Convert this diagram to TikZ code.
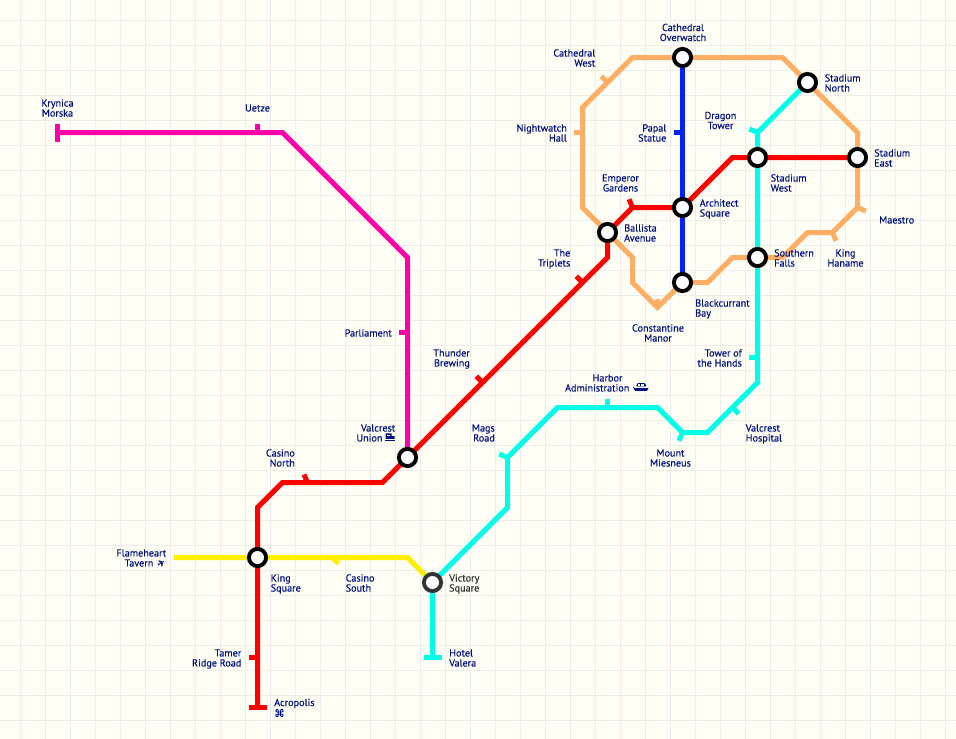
\documentclass[tikz,border=0pt]{standalone}
\usepackage{fontspec}
\setmainfont{PT Sans}
\newfontfamily\lblfont[RawFeature={embolden=0.35}]{PT Sans}
\newfontfamily\symfont[RawFeature={embolden=0.6}]{DejaVu Sans}
\definecolor{bgc}{HTML}{FFFFF5}
\definecolor{gridc}{HTML}{EDEEEB}
\definecolor{navy}{HTML}{001080}
\definecolor{ringgray}{HTML}{333333}
\definecolor{lmag}{HTML}{FF00A8}
\definecolor{lred}{HTML}{FF0000}
\definecolor{lblue}{HTML}{0022FF}
\definecolor{lcyan}{HTML}{00FFE6}
\definecolor{lorange}{HTML}{FFAE66}
\definecolor{lyellow}{HTML}{FFF000}
\pgfdeclarelayer{gridlayer}
\pgfdeclarelayer{linelayer}
\pgfsetlayers{gridlayer,linelayer,main}
\tikzset{
  x=1pt,y=-1pt,
  metro/.style={line width=5pt,line join=miter},
  stationnode/.style={circle,draw=black,fill=white,line width=3.9pt,minimum size=17.2pt,inner sep=0pt},
  lbl/.style={font=\lblfont\fontsize{10.2}{10}\selectfont,text=navy,inner sep=0pt,yshift=-1.9pt,execute at begin node=\strut,execute at end node=\strut},
  lblL/.style={lbl,anchor=west,align=left},
  lblR/.style={lbl,anchor=east,align=right},
  lblC/.style={lbl,anchor=center,align=center},
}
\begin{document}
\begin{tikzpicture}
\useasboundingbox (0,0) rectangle (956,739);
\begin{pgfonlayer}{gridlayer}
\fill[bgc] (0,0) rectangle (956,739);
\foreach \i in {0,...,37} \draw[gridc,line width=1.8pt] ({20.5+25*\i},0) -- ({20.5+25*\i},739);
\foreach \i in {0,...,28} \draw[gridc,line width=1.8pt] (0,{20.5+25*\i}) -- (956,{20.5+25*\i});
\end{pgfonlayer}
% stations
\node[stationnode] (overwatch) at (682.5,57.5) {};
\node[stationnode] (stnorth) at (807.5,82.5) {};
\node[stationnode] (stwest) at (757.5,157.5) {};
\node[stationnode] (steast) at (857.5,157.5) {};
\node[stationnode] (architect) at (682.5,207.5) {};
\node[stationnode] (ballista) at (607.5,232.5) {};
\node[stationnode] (blackcurrant) at (682.5,282.5) {};
\node[stationnode] (southern) at (757.5,257.5) {};
\node[stationnode] (union) at (407.5,457.5) {};
\node[stationnode] (king) at (257.5,557.5) {};
\node[stationnode,draw=ringgray] (victory) at (432.5,582.5) {};
% stops on the lines
\coordinate (krynica) at (57.5,132.5);
\coordinate (uetze) at (257.5,132.5);
\coordinate (parliament) at (407.5,332.5);
\coordinate (casinon) at (307.5,482.5);
\coordinate (thunder) at (482.5,382.5);
\coordinate (triplets) at (582.5,282.5);
\coordinate (emperor) at (632.5,207.5);
\coordinate (tamer) at (257.5,657.5);
\coordinate (acropolis) at (257.5,707.5);
\coordinate (papal) at (682.5,132.5);
\coordinate (flame) at (174,557.5);
\coordinate (casinos) at (332.5,557.5);
\coordinate (valera) at (432.5,657.5);
\coordinate (mags) at (507.5,457.5);
\coordinate (harbor) at (607.5,407.5);
\coordinate (miesneus) at (682.5,432.5);
\coordinate (hospital) at (732.5,407.5);
\coordinate (hands) at (757.5,357.5);
\coordinate (dragon) at (757.5,132.5);
\coordinate (maestro) at (857.5,207.5);
\coordinate (haname) at (832.5,232.5);
\coordinate (constantine) at (657.5,307.5);
\coordinate (catwest) at (607.5,82.5);
\coordinate (nightwatch) at (582.5,132.5);
% tick ends
\coordinate (krynicaA) at (57.5,123.5);
\coordinate (krynicaB) at (57.5,141.5);
\coordinate (uetzeE) at (257.5,123.5);
\coordinate (parliamentE) at (398.5,332.5);
\coordinate (casinonE) at (304,474.5);
\coordinate (thunderE) at (476.3,376.3);
\coordinate (tripletsE) at (576.3,276.3);
\coordinate (emperorE) at (629,199.2);
\coordinate (tamerE) at (248.5,657.5);
\coordinate (acropolisA) at (248.5,707.5);
\coordinate (acropolisB) at (266.5,707.5);
\coordinate (papalE) at (673.5,132.5);
\coordinate (casinosE) at (338.7,563.7);
\coordinate (valeraA) at (423.5,657.5);
\coordinate (valeraB) at (441.5,657.5);
\coordinate (magsE) at (499.2,454);
\coordinate (harborE) at (607.5,398.5);
\coordinate (miesneusE) at (679,440.8);
\coordinate (hospitalE) at (738.7,413.7);
\coordinate (handsE) at (748.5,357.5);
\coordinate (dragonE) at (749.2,129);
\coordinate (maestroE) at (865.8,211);
\coordinate (hanameE) at (836,240.8);
\coordinate (constantineE) at (657.5,298.5);
\coordinate (catwestE) at (601.3,76.3);
\coordinate (nightwatchE) at (573.5,132.5);
% bends
\coordinate (m1) at (282.5,132.5);
\coordinate (m2) at (407.5,257.5);
\coordinate (r1) at (257.5,507.5);
\coordinate (r2) at (282.5,482.5);
\coordinate (r3) at (382.5,482.5);
\coordinate (r4) at (607.5,257.5);
\coordinate (r5) at (732.5,157.5);
\coordinate (y1) at (407.5,557.5);
\coordinate (c1) at (507.5,507.5);
\coordinate (c2) at (557.5,407.5);
\coordinate (c3) at (657.5,407.5);
\coordinate (c4) at (707.5,432.5);
\coordinate (c5) at (757.5,382.5);
\coordinate (o1) at (782.5,57.5);
\coordinate (o2) at (857.5,132.5);
\coordinate (o3) at (807.5,232.5);
\coordinate (o4) at (782.5,257.5);
\coordinate (o5) at (732.5,257.5);
\coordinate (o6) at (707.5,282.5);
\coordinate (o7) at (632.5,282.5);
\coordinate (o8) at (632.5,257.5);
\coordinate (o9) at (582.5,207.5);
\coordinate (o10) at (582.5,107.5);
\coordinate (o11) at (632.5,57.5);
\begin{pgfonlayer}{linelayer}
% orange
\draw[metro,lorange] (overwatch.center) -- (o1) -- (o2) -- (maestro) -- (haname) -- (o3) -- (o4) -- (o5) -- (o6) -- (blackcurrant.center) -- (constantine) -- (o7) -- (o8) -- (o9) -- (o10) -- (o11) -- cycle;
\draw[metro,lorange] (maestro) -- (maestroE);
\draw[metro,lorange] (haname) -- (hanameE);
\draw[metro,lorange] (constantine) -- (constantineE);
\draw[metro,lorange] (catwest) -- (catwestE);
\draw[metro,lorange] (nightwatch) -- (nightwatchE);
% magenta
\draw[metro,lmag] (krynica) -- (m1) -- (m2) -- (union.center);
\draw[metro,lmag] (krynicaA) -- (krynicaB);
\draw[metro,lmag] (uetze) -- (uetzeE);
\draw[metro,lmag] (parliament) -- (parliamentE);
% yellow
\draw[metro,lyellow] (flame) -- (y1) -- (victory.center);
\draw[metro,lyellow] (casinos) -- (casinosE);
% red
\draw[metro,lred] (acropolis) -- (r1) -- (r2) -- (r3) -- (r4) -- (ballista.center) -- (emperor) -- (architect.center);
\draw[metro,lred] (architect.center) -- (r5) -- (steast.center);
\draw[metro,lred] (acropolisA) -- (acropolisB);
\draw[metro,lred] (casinon) -- (casinonE);
\draw[metro,lred] (thunder) -- (thunderE);
\draw[metro,lred] (triplets) -- (tripletsE);
\draw[metro,lred] (emperor) -- (emperorE);
\draw[metro,lred] (tamer) -- (tamerE);
% blue
\draw[metro,lblue] (overwatch.center) -- (blackcurrant.center);
\draw[metro,lblue] (papal) -- (papalE);
% cyan
\draw[metro,lcyan] (valera) -- (victory.center) -- (c1) -- (mags) -- (c2) -- (c3) -- (miesneus) -- (c4) -- (c5) -- (dragon) -- (stnorth.center);
\draw[metro,lcyan] (valeraA) -- (valeraB);
\draw[metro,lcyan] (mags) -- (magsE);
\draw[metro,lcyan] (harbor) -- (harborE);
\draw[metro,lcyan] (miesneus) -- (miesneusE);
\draw[metro,lcyan] (hospital) -- (hospitalE);
\draw[metro,lcyan] (hands) -- (handsE);
\draw[metro,lcyan] (dragon) -- (dragonE);
\end{pgfonlayer}
% labels
\node[lblC] (l1) at (683,32) {Cathedral\\Overwatch};
\node[lblL] (l2) at (824.5,82.5) {Stadium\\North};
\node[lblL] (l3) at (874,157.5) {Stadium\\East};
\node[lblL] (l4) at (770.5,182.5) {Stadium\\West};
\node[lblL] (l5) at (699.5,207.5) {Architect\\Square};
\node[lblL] (l6) at (624,232.5) {Ballista\\Avenue};
\node[lblL] (l7) at (774,257.5) {Southern\\Falls};
\node[lblL] (l8) at (695,307.5) {Blackcurrant\\Bay};
\node[lblL,text=ringgray] (l9) at (449,582.5) {Victory\\Square};
\node[lblL] (l10) at (449,657.5) {Hotel\\Valera};
\node[lblL] (l11) at (270.5,582.5) {King\\Square};
\node[lblL] (l12) at (345.5,582.5) {Casino\\South};
\node[lblL] (l13) at (745.5,432.5) {Valcrest\\Hospital};
\node[lblL] (l14) at (274,707.5) {Acropolis\\{\symfont\fontsize{10.5}{10}\selectfont ⌘}};
\node[lblL] (l15) at (879,219.5) {Maestro};
\node[lblR] (l16) at (595.5,57.5) {Cathedral\\West};
\node[lblR] (l17) at (567,132.5) {Nightwatch\\Hall};
\node[lblR] (l18) at (666.5,132.5) {Papal\\Statue};
\node[lblR] (l19) at (570.5,257.5) {The\\Triplets};
\node[lblR] (l20) at (470,357.5) {Thunder\\Brewing};
\node[lblR] (l21) at (395.5,432.5) {Valcrest\\Union\hspace*{12.8pt}};
\node[lblR] (l22) at (495,432.5) {Mags\\Road};
\node[lblR] (l23) at (295,457.5) {Casino\\North};
\node[lblR] (l24) at (166.5,557.5) {Flameheart\\Tavern {\symfont\rotatebox[origin=c]{30}{\fontsize{9.5}{10}\selectfont ✈}}};
\node[lblR] (l25) at (241.5,657.5) {Tamer\\Ridge Road};
\node[lblR] (l26) at (742,357.5) {Tower of\\the Hands};
\node[lblR] (l27) at (392,332.5) {Parliament};
\node[lblC] (l28) at (720.5,120) {Dragon\\Tower};
\node[lblC] (l29) at (620.5,182.5) {Emperor\\Gardens};
\node[lblC] (l30) at (607.5,382.5) {Harbor\\Administration\hspace*{20.6pt}};
\node[lblC] (l31) at (670.5,457.5) {Mount\\Miesneus};
\node[lblC] (l32) at (658,332.5) {Constantine\\Manor};
\node[lblC] (l33) at (845.5,257.5) {King\\Haname};
\node[lblC] (l34) at (57.5,107.5) {Krynica\\Morska};
\node[lblC] (l35) at (257.5,107.5) {Uetze};
% icons
\fill[navy] (385.5,433.3) -- (391.5,433.3) -- (391.5,436) -- (394.5,436) -- (394.5,438.8) -- (385.5,438.8) -- cycle;
\fill[navy] (385.2,440) rectangle (395.2,441.2);
\fill[white] (387,434.6) rectangle (389.8,435.7);
\fill[navy] (632.8,386.8) -- (649.2,386.8) -- (647,390.8) -- (635,390.8) -- cycle;
\fill[navy,rounded corners=1pt] (636,386.4) -- (637.5,383) -- (645,383) -- (646.5,386.4) -- cycle;
\fill[white] (638.4,384.1) rectangle (640.4,385.8);
\fill[white] (641.4,384.1) rectangle (644.2,385.8);
\fill[white] (633.5,387.2) rectangle (648.5,387.7);
\end{tikzpicture}
\end{document}
